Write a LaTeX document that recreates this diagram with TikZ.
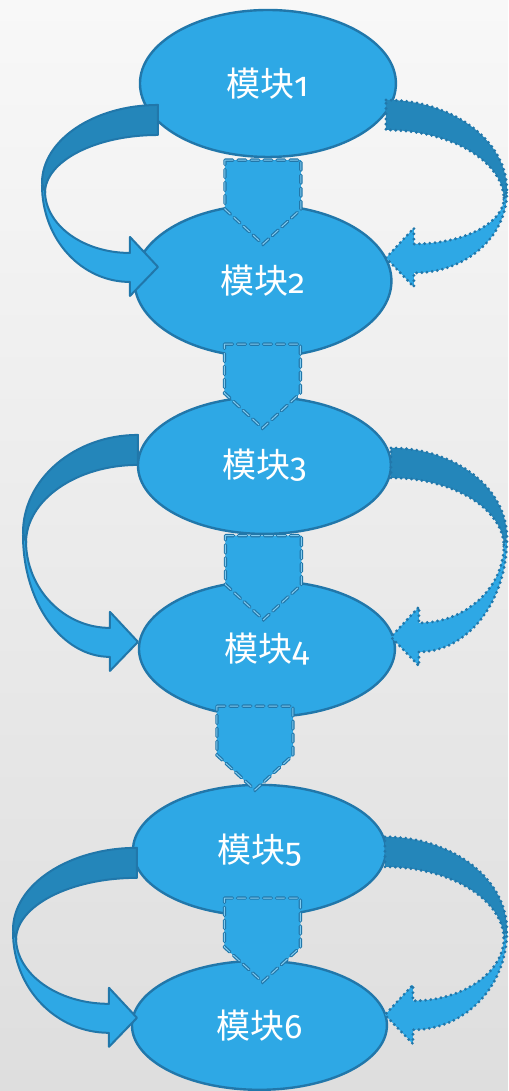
\documentclass[tikz,border=0pt]{standalone}
\usepackage{fontspec}
\newfontfamily\cjk{Noto Sans CJK SC}
\newfontfamily\oldnum[Numbers=OldStyle]{Fira Sans}
\usetikzlibrary{shapes.geometric, calc}
\definecolor{modfill}{RGB}{46,168,229}
\definecolor{modline}{RGB}{33,119,170}
\definecolor{bandback}{RGB}{36,134,186}
\tikzset{
	module/.style={ellipse, draw=modline, fill=modfill, line width=1.2pt, text=white, inner sep=0pt, font=\fontsize{17}{20}\selectfont},
	backband/.style={draw=modline, fill=bandback, line join=round},
	frontband/.style={draw=modline, fill=modfill, line join=round},
	solidrim/.style={line width=1pt},
	dotrim/.style={line width=1.6pt, dash pattern=on 0pt off 2.6pt, line cap=round},
	dashrim/.style={draw=modline, fill=modfill, line width=0.6pt, double=modfill!60!white, double distance=0.5pt, dash pattern=on 4pt off 2.5pt, line cap=round},
	pics/loopband/.style n args={3}{code={
		\filldraw[backband] (0,0) .. controls ({-0.55*#1},0) and ({-#1},{0.45*#2}) .. ({-#1},{#2})
			-- ({-#1+3},{#2+10}) .. controls ({-#1+3},{#2+10-0.55*(#2-20)}) and ({-0.55*(#1-3)},30) .. (0,30) -- cycle;
		\filldraw[frontband] ({-#1+3},{#2+8}) .. controls ({-#1+3},{#2+8+0.55*(#3-37)}) and ({-28-0.55*(#1-31)},{#2+#3-29}) .. (-28,{#2+#3-29})
			-- (-28,{#2+#3-45}) -- (0,{#2+#3-15}) -- (-28,{#2+#3+14}) -- (-28,{#2+#3})
			.. controls ({-28-0.55*(#1-28)},{#2+#3}) and ({-#1},{#2+2+0.55*#3}) .. ({-#1},{#2+2}) -- cycle;
	}},
	pics/downarr/.style={code={
		\filldraw[dashrim] (-38,0) -- (38,0) -- (38,49) -- (0,84) -- (-38,49) -- cycle;
	}}
}
\newcommand{\modlabel}[1]{{\cjk 模块}{\oldnum #1}}

\begin{document}
\begin{tikzpicture}[x=0.5pt, y=-0.5pt]
	\fill[top color={rgb,255:red,248;green,248;blue,248}, bottom color={rgb,255:red,222;green,222;blue,222}] (0,0) rectangle (508,1091);

	\node[module, minimum width=128pt, minimum height=73.5pt] (m1) at (268,83.5) {\modlabel{1}};
	\node[module, minimum width=128.5pt, minimum height=76pt] (m2) at (263,281) {\modlabel{2}};
	\node[module, minimum width=126.5pt, minimum height=68.5pt] (m3) at (264.5,465.5) {\modlabel{3}};
	\node[module, minimum width=128pt, minimum height=68pt] (m4) at (267,649) {\modlabel{4}};
	\node[module, minimum width=126.5pt, minimum height=65.5pt] (m5) at (259.5,850.5) {\modlabel{5}};
	\node[module, minimum width=127.5pt, minimum height=64.5pt] (m6) at (259.5,1025.5) {\modlabel{6}};

	\pic at ($(m1.south)+(-5,2)$) {downarr};
	\pic at ($(m2.south)+(-0.5,-14)$) {downarr};
	\pic at ($(m3.south)+(-1,0.5)$) {downarr};
	\pic at ($(m4.south)+(-12,-12)$) {downarr};
	\pic at ($(m5.south)+(3,-19)$) {downarr};

	\pic[solidrim] at (158,105) {loopband={116}{78}{99}};
	\pic[solidrim] at (138,435) {loopband={115}{98}{124}};
	\pic[solidrim] at (137,848) {loopband={124}{82}{103}};
	\pic[dotrim, xscale=-1] at (386,100) {loopband={121}{90}{83}};
	\pic[dotrim, xscale=-1] at (391,448) {loopband={116}{89}{115}};
	\pic[dotrim, xscale=-1] at (385,837) {loopband={122}{93}{100}};
\end{tikzpicture}
\end{document}
